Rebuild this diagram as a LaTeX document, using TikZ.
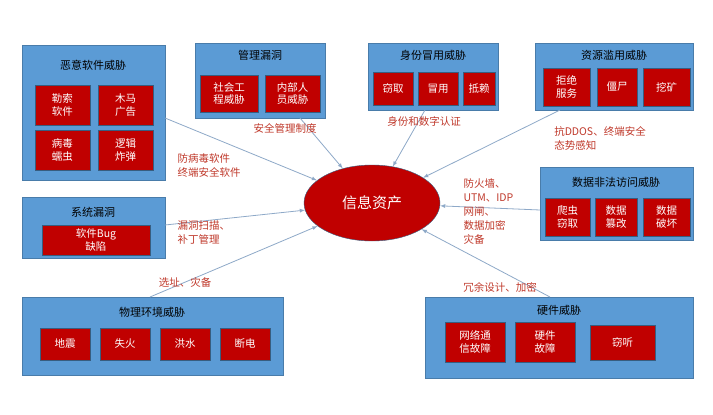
\documentclass[tikz,border=0pt]{standalone}
\usepackage{fontspec}
\setmainfont{Noto Sans CJK SC}
\usepackage{xcolor}
\usetikzlibrary{shapes.geometric}
\definecolor{boxblue}{HTML}{5B9BD5}
\definecolor{boxred}{HTML}{C00000}
\definecolor{txtred}{HTML}{C0392B}
\definecolor{linegray}{HTML}{8EA9C8}
\tikzset{
  group/.style={draw=boxblue!80!black, fill=boxblue},
  item/.style={draw=boxblue!60!black, fill=boxred},
  itemtext/.style={text=white, font=\fontsize{10.5}{12.5}\selectfont, align=center},
  titletext/.style={font=\fontsize{11}{13}\selectfont},
  measure/.style={text=txtred, font=\fontsize{10.5}{14}\selectfont, align=left},
  link/.style={draw=linegray, thick, -latex}
}
\begin{document}
\begin{tikzpicture}[x=1pt,y=-1pt]
	\useasboundingbox[fill=white] (0,0) rectangle (713,415);
	% groups
	\draw[group] (22,45) rectangle (165,180);
	\node[titletext] (malware) at (93,65) {恶意软件威胁};
	\draw[group] (195,43) rectangle (325,118);
	\node[titletext] (manage) at (260,55) {管理漏洞};
	\draw[group] (368,43) rectangle (498,110);
	\node[titletext] (ident) at (433,55) {身份冒用威胁};
	\draw[group] (535,43) rectangle (693,110);
	\node[titletext] (resource) at (614,55) {资源滥用威胁};
	\draw[group] (22,197) rectangle (165,258);
	\node[titletext] (system) at (93,212) {系统漏洞};
	\draw[group] (540,167) rectangle (693,240);
	\node[titletext] (data) at (616,182) {数据非法访问威胁};
	\draw[group] (22,297) rectangle (283,375);
	\node[titletext] (phys) at (152,312) {物理环境威胁};
	\draw[group] (425,297) rectangle (693,378);
	\node[titletext] (hard) at (559,310) {硬件威胁};
	% items
	\foreach \xa/\ya/\xb/\yb/\txt in {
		35/85/90/125/{勒索\\软件}, 98/85/153/125/{木马\\广告},
		35/130/90/170/{病毒\\蠕虫}, 98/130/153/170/{逻辑\\炸弹},
		200/75/258/112/{社会工\\程威胁}, 265/75/320/112/{内部人\\员威胁},
		373/72/413/105/{窃取}, 418/72/458/105/{冒用}, 463/72/495/105/{抵赖},
		543/68/590/106/{拒绝\\服务}, 597/68/637/106/{僵尸}, 643/68/690/106/{挖矿},
		42/225/150/255/{软件Bug\\缺陷},
		545/198/590/236/{爬虫\\窃取}, 595/198/637/236/{数据\\篡改}, 643/198/690/236/{数据\\破坏},
		40/328/90/360/{地震}, 100/328/150/360/{失火}, 160/328/210/360/{洪水}, 220/328/270/360/{断电},
		445/322/505/362/{网络通\\信故障}, 515/322/575/362/{硬件\\故障}, 590/325/655/360/{窃听}}{
		\draw[item] (\xa,\ya) rectangle (\xb,\yb);
		\node[itemtext] at ({(\xa+\xb)/2},{(\ya+\yb)/2}) {\txt};
	}
	% centre
	\node[draw=boxblue!60!black, fill=boxred, ellipse, minimum width=136pt, minimum height=76pt,
		text=white, font=\fontsize{15}{17}\selectfont, inner sep=0pt] (asset) at (372,203) {信息资产};
	% links
	\coordinate (m1) at (165,118);
	\coordinate (m2) at (300,118);
	\coordinate (m3) at (425,110);
	\coordinate (m4) at (560,110);
	\coordinate (m5) at (165,225);
	\coordinate (m6) at (540,210);
	\coordinate (m7) at (150,297);
	\coordinate (m8) at (550,297);
	\foreach \c in {m1,m2,m3,m4,m5,m6,m7,m8}{
		\draw[link] (\c) -- (asset);
	}
	% measures
	\node[measure, anchor=west] (t1) at (174,166) {防病毒软件\\终端安全软件};
	\node[measure] (t2) at (285,128) {安全管理制度};
	\node[measure] (t3) at (424,122) {身份和数字认证};
	\node[measure] (t4) at (600,138) {抗DDOS、终端安全\\态势感知};
	\node[measure, anchor=west] (t5) at (174,233) {漏洞扫描、\\补丁管理};
	\node[measure, anchor=west] (t6) at (460,212) {防火墙、\\UTM、IDP\\网闸、\\数据加密\\灾备};
	\node[measure] (t7) at (185,282) {选址、灾备};
	\node[measure] (t8) at (500,287) {冗余设计、加密};
\end{tikzpicture}
\end{document}
